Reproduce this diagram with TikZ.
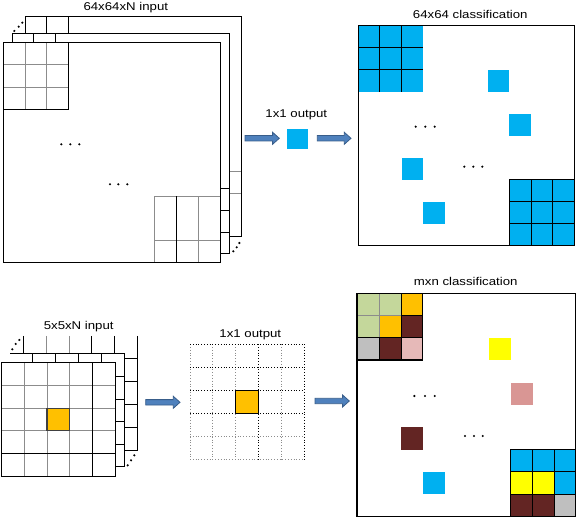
\documentclass[tikz,border=0pt]{standalone}
\usepackage{fontspec}
\setmainfont{Liberation Sans}
\usepackage{graphicx}
\usetikzlibrary{calc}
\definecolor{cy}{HTML}{00B0F0}
\definecolor{orng}{HTML}{FFC000}
\definecolor{grn}{HTML}{C4D79B}
\definecolor{brn}{HTML}{632523}
\definecolor{lgr}{HTML}{BFBFBF}
\definecolor{lpk}{HTML}{E6B9B8}
\definecolor{pk}{HTML}{D99694}
\definecolor{yl}{HTML}{FFFF00}
\definecolor{arrfill}{HTML}{4F81BD}
\definecolor{arrline}{HTML}{385D8A}
\definecolor{gline}{HTML}{8C8C8C}
\newcommand\wide[1]{\scalebox{1.17}[1]{#1}}
\newcommand\blockarr[2]{%
  \draw[arrowbody] let \p1=(#1), \p2=(#2) in
    (\x1,\y1+2.7pt) -- (\x2-6.7pt,\y1+2.7pt) -- (\x2-6.7pt,\y1+6pt) -- (\x2,\y1)
    -- (\x2-6.7pt,\y1-6pt) -- (\x2-6.7pt,\y1-2.7pt) -- (\x1,\y1-2.7pt) -- cycle;}
\begin{document}
\begin{tikzpicture}[x=1pt,y=-1pt,
  blk/.style={draw=black,line width=1pt},
  gry/.style={draw=gline,line width=1pt},
  lbl/.style={font=\fontsize{11.3}{12}\selectfont,anchor=base,inner sep=0pt},
  arrowbody/.style={fill=arrfill,draw=arrline,line width=0.8pt,line join=miter},
  dotdark/.style={draw=black,line width=0.8pt,dotted},
  dotgray/.style={draw=gline,line width=0.8pt,dotted},
  pt/.style={fill=black}]
\useasboundingbox (0,0) rectangle (578,518);

% ---------------- top-left stack (64x64xN input)
% back layer
\draw[blk] (25.7,33) -- (25.7,17) -- (241.3,17) -- (241.3,236.7) -- (229,236.7);
\draw[blk] (46,17) -- (46,33) (68.3,17) -- (68.3,33);
\draw[gry] (229,171.3) -- (241.3,171.3) (229,193.3) -- (241.3,193.3);
% middle layer
\draw[blk] (12,43) -- (12,33.3) -- (229,33.3) -- (229,254) -- (220,254);
\draw[blk] (33.3,33.3) -- (33.3,43) (55.3,33.3) -- (55.3,43);
\draw[blk] (220,188.3) -- (229,188.3) (220,210.3) -- (229,210.3) (220,232.3) -- (229,232.3);
% front layer
\draw[blk,fill=white] (3.3,43) rectangle (220,263);
\draw[gry] (25.7,43) -- (25.7,109.3) (46,43) -- (46,109.3)
           (3.3,65) -- (68.3,65) (3.3,87.3) -- (68.3,87.3);
\draw[blk] (68.3,43) -- (68.3,109.3) -- (3.3,109.3);
\draw[gry] (154.3,263) -- (154.3,196.3) -- (220,196.3)
           (198.3,196.3) -- (198.3,263) (154.3,240.3) -- (220,240.3);
\draw[blk] (176.3,196.3) -- (176.3,263);
\draw[blk] (3.3,43) rectangle (220,263);
% dots
\foreach \p in {(14.3,31),(18.7,26.7),(22.3,22.7),(233.3,251.3),(236.7,247.3),(239.3,243),
  (61.3,144.3),(70.3,144.3),(79.3,144.3),(110,184.3),(118.3,184.3),(127.3,184.3)}
  \fill[pt] \p circle (1.2pt);
\node[lbl] (tin) at (125.8,10.5) {\wide{64x64xN input}};

% ---------------- top 1x1 output
\coordinate (a1s) at (245,138.3);
\coordinate (a1e) at (279.3,138.3);
\coordinate (a2s) at (317.3,138.3);
\coordinate (a2e) at (351,138.3);
\blockarr{a1s}{a1e}
\blockarr{a2s}{a2e}
\fill[cy] (286.7,129.3) rectangle (307.7,148.7);
\node[lbl] (tout) at (296.3,118) {\wide{1x1 output}};

% ---------------- 64x64 classification
\draw[blk,fill=white] (358.3,25.7) rectangle (574.3,245.7);
\fill[cy] (358.3,25.7) rectangle (423.3,91.7);
\draw[blk] (379.3,25.7) -- (379.3,91.7) (401.3,25.7) -- (401.3,91.7)
           (358.3,47.7) -- (423.3,47.7) (358.3,69.7) -- (423.3,69.7);
\fill[cy] (488,70) rectangle (509,91.7);
\fill[cy] (509,114) rectangle (531,135.7);
\fill[cy] (402,158) rectangle (423,180);
\fill[cy] (423,202) rectangle (445,223.7);
\fill[cy] (509.3,179.3) rectangle (574.3,245.7);
\draw[blk] (509.3,245.7) -- (509.3,179.3) -- (574.3,179.3)
           (531.3,179.3) -- (531.3,245.7) (552.7,179.3) -- (552.7,245.7)
           (509.3,201.3) -- (574.3,201.3) (509.3,223.3) -- (574.3,223.3);
\draw[blk] (358.3,25.7) rectangle (574.3,245.7);
\foreach \p in {(415.7,126.7),(425.3,126.7),(434.7,126.7),(464.3,166.7),(473.3,166.7),(482.3,166.7)}
  \fill[pt] \p circle (1.2pt);
\node[lbl] (tcls) at (470.3,18.5) {\wide{64x64 classification}};

% ---------------- bottom-left stack (5x5xN input)
\draw[blk] (23.3,336) -- (23.3,353.3) (91.7,336) -- (91.7,353.3) (114.3,336) -- (114.3,353.3);
\draw[gry] (46.3,336) -- (46.3,353.3) (69.3,336) -- (69.3,353.3);
\draw[blk] (137,336) -- (137,450.7) -- (124.3,450.7);
\draw[blk] (124.3,358.3) -- (137,358.3) (124.3,381.3) -- (137,381.3)
           (124.3,404.3) -- (137,404.3) (124.3,427.3) -- (137,427.3);
\draw[blk] (10,353.3) -- (124.3,353.3) -- (124.3,466.7) -- (115.7,466.7);
\draw[blk] (32.3,353.3) -- (32.3,362.3) (55.3,353.3) -- (55.3,362.3)
           (78.3,353.3) -- (78.3,362.3) (101.3,353.3) -- (101.3,362.3);
\draw[blk] (115.7,376) -- (124.3,376) (115.7,399) -- (124.3,399)
           (115.7,421.7) -- (124.3,421.7) (115.7,444.3) -- (124.3,444.3);
\draw[blk,fill=white] (1.7,362.3) rectangle (115.7,476);
\draw[gry] (24.3,362.3) -- (24.3,476) (47,362.3) -- (47,476) (69.7,362.3) -- (69.7,476)
           (1.7,385.3) -- (115.7,385.3) (1.7,408.3) -- (115.7,408.3) (1.7,430.7) -- (115.7,430.7);
\draw[blk] (92.3,362.3) -- (92.3,476) (1.7,453.3) -- (115.7,453.3);
\draw[blk] (1.7,362.3) rectangle (115.7,476);
\draw[fill=orng,draw=black!75,line width=1.4pt] (47,408.3) rectangle (69.7,430.7);
\foreach \p in {(12.3,349.3),(15.7,344),(19.3,340),(127.7,465.3),(131,460.3),(134.3,455.3)}
  \fill[pt] \p circle (1.2pt);
\node[lbl] (bin) at (78.7,329.5) {\wide{5x5xN input}};

% ---------------- bottom 1x1 output (dotted grid)
\coordinate (a3s) at (145.7,402.3);
\coordinate (a3e) at (180,402.3);
\coordinate (a4s) at (315,401);
\coordinate (a4e) at (349.3,401);
\blockarr{a3s}{a3e}
\blockarr{a4s}{a4e}
\draw[dotgray] (190,344.3) -- (190,459.3) (212.7,344.3) -- (212.7,459.3)
               (235.7,344.3) -- (235.7,459.3) (281.7,344.3) -- (281.7,459.3)
               (190,436.3) -- (304.7,436.3) (190,459.3) -- (304.7,459.3);
\draw[dotdark] (258.7,344.3) -- (258.7,459.3) (304.7,344.3) -- (304.7,459.3)
               (190,344.3) -- (304.7,344.3) (190,367.3) -- (304.7,367.3)
               (190,390.3) -- (304.7,390.3) (190,413.3) -- (304.7,413.3);
\draw[fill=orng,draw=black,line width=1.2pt] (235.7,390.3) rectangle (258.7,413.3);
\node[lbl] (bout) at (250.3,337.5) {\wide{1x1 output}};

% ---------------- mxn classification
\draw[blk,fill=white] (357,293.3) rectangle (575.3,516.7);
\fill[grn] (357,293.3) rectangle (379.3,315.3);
\fill[grn] (379.3,293.3) rectangle (401.3,315.3);
\fill[orng] (401.3,293.3) rectangle (422.7,315.3);
\fill[grn] (357,315.3) rectangle (379.3,338);
\fill[orng] (379.3,315.3) rectangle (401.3,338);
\fill[brn] (401.3,315.3) rectangle (422.7,338);
\fill[lgr] (357,338) rectangle (379.3,360);
\fill[brn] (379.3,338) rectangle (401.3,360);
\fill[lpk] (401.3,338) rectangle (422.7,360);
\draw[gry] (379.3,293.3) -- (379.3,338) (357,315.3) -- (401.3,315.3);
\draw[blk] (401.3,293.3) -- (401.3,360) (379.3,338) -- (379.3,360)
           (357,338) -- (422.7,338) (401.3,315.3) -- (422.7,315.3);
\draw[blk] (422.7,293.3) -- (422.7,360) -- (357,360);
\fill[yl] (489,338) rectangle (511,359.7);
\fill[pk] (511,383) rectangle (533,405);
\fill[brn] (401,427) rectangle (423,449.7);
\fill[cy] (423,472) rectangle (445,493.7);
\fill[cy] (510.3,449.3) rectangle (575.3,471.7);
\fill[yl] (510.3,471.7) rectangle (554.3,494.3);
\fill[cy] (554.3,471.7) rectangle (575.3,494.3);
\fill[brn] (510.3,494.3) rectangle (554.3,516.7);
\fill[lgr] (554.3,494.3) rectangle (575.3,516.7);
\draw[blk] (510.3,516.7) -- (510.3,449.3) -- (575.3,449.3)
           (532.3,449.3) -- (532.3,516.7) (554.3,449.3) -- (554.3,516.7)
           (510.3,471.7) -- (575.3,471.7) (510.3,494.3) -- (575.3,494.3);
\draw[blk] (357,293.3) rectangle (575.3,516.7);
\draw[black,line width=1.6pt] (357,293.3) -- (357,516.7);
\foreach \p in {(414.3,396),(425,396),(434.7,396),(465,436),(474,436),(482.7,436)}
  \fill[pt] \p circle (1.2pt);
\node[lbl] (bcls) at (465.7,286) {\wide{mxn classification}};
\end{tikzpicture}
\end{document}
